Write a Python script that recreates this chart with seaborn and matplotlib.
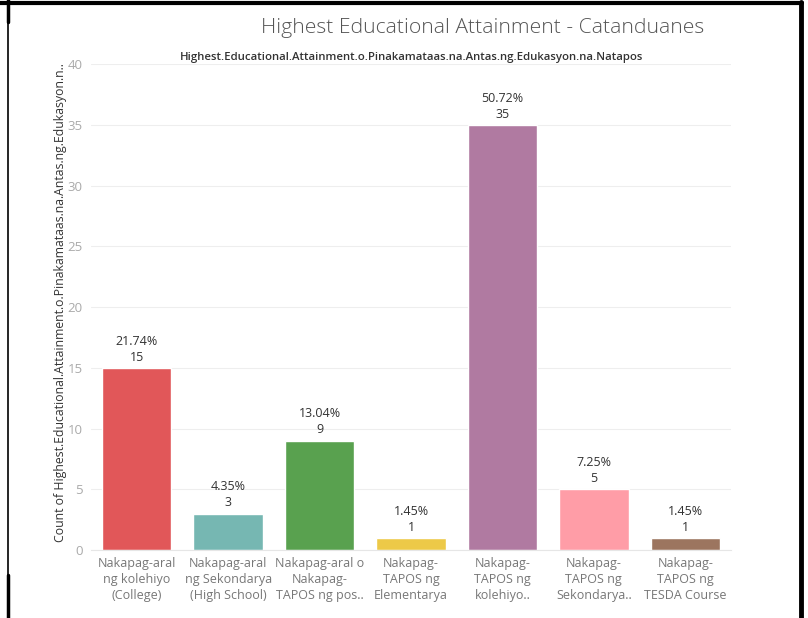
import pandas as pd
import numpy as np
import seaborn as sns
import matplotlib.pyplot as plt
from matplotlib.lines import Line2D

categories = [
    "Nakapag-aral\nng kolehiyo\n(College)",
    "Nakapag-aral\nng Sekondarya\n(High School)",
    "Nakapag-aral o\nNakapag-\nTAPOS ng pos..",
    "Nakapag-\nTAPOS ng\nElementarya",
    "Nakapag-\nTAPOS ng\nkolehiyo..",
    "Nakapag-\nTAPOS ng\nSekondarya..",
    "Nakapag-\nTAPOS ng\nTESDA Course",
]
counts = [15, 3, 9, 1, 35, 5, 1]
percents = ["21.74%", "4.35%", "13.04%", "1.45%", "50.72%", "7.25%", "1.45%"]
bar_colours = ["#E15759", "#76B7B2", "#59A14F", "#EDC948", "#B07AA1", "#FF9DA7", "#9C755F"]

df = pd.DataFrame({"category": categories, "count": counts})

sns.set_style("white")
plt.rcParams['font.family'] = ['Open Sans', 'DejaVu Sans']

fig = plt.figure(figsize=(8.08, 6.18), dpi=100)
ax = fig.add_axes([0.1126, 0.110, 0.7921, 0.7864])

sns.barplot(
    data=df,
    x='category',
    y='count',
    hue='category',
    palette=bar_colours,
    legend=False,
    width=0.76,
    saturation=1,
    ax=ax
)

ax.set_ylim(0, 40)
ax.set_xlim(-0.5, len(categories) - 0.5)
ax.set_yticks(range(0, 41, 5))
ax.yaxis.grid(True, color="#eeeeee", linewidth=0.8)
ax.set_axisbelow(True)
for s in ['top', 'right', 'left']:
    ax.spines[s].set_visible(False)
ax.spines['bottom'].set_color("#e6e6e6")
ax.tick_params(axis='y', colors="#aaaaaa", labelsize=9.5, length=0, pad=6)
ax.tick_params(axis='x', colors="#777777", labelsize=9, length=0, pad=5)
ax.set_xticks(range(len(categories)))
ax.set_xticklabels(categories, linespacing=1.3)
ax.set_xticks(np.arange(0.5, len(categories) - 0.5, 1), minor=True)
ax.tick_params(axis='x', which='minor', length=10, color="#eeeeee", direction='out')

for i, (c, p) in enumerate(zip(counts, percents)):
    ax.text(i, c + 0.35, f"{p}\n{c}", ha='center', va='bottom', fontsize=9,
            color="#333333", linespacing=1.3)

ax.set_xlabel("")
ax.set_ylabel("Count of Highest.Educational.Attainment.o.Pinakamataas.na.Antas.ng.Edukasyon.n..",
              fontsize=8.8, color="#333333")
ax.yaxis.set_label_coords(-0.038, 0.51)

fig.text(0.597, 0.955, "Highest Educational Attainment - Catanduanes", ha='center', va='center',
         fontsize=15.2, color="#555555", fontweight='light')
fig.text(0.509, 0.907, "Highest.Educational.Attainment.o.Pinakamataas.na.Antas.ng.Edukasyon.na.Natapos",
         ha='center', va='center', fontsize=8.2, color="#333333", fontweight='semibold')

# frame lines around the screenshot
fig.add_artist(Line2D([0, 0.992], [0.995, 0.995], color='black', lw=3, transform=fig.transFigure))
fig.add_artist(Line2D([0.0105, 0.0105], [0, 1], color='black', lw=1.2, transform=fig.transFigure))
fig.add_artist(Line2D([0.0095, 0.0095], [0.965, 1], color='black', lw=2.5, transform=fig.transFigure))
fig.add_artist(Line2D([0.0095, 0.0095], [0, 0.07], color='black', lw=2.5, transform=fig.transFigure))
fig.add_artist(Line2D([0.991, 0.991], [0, 0.997], color='black', lw=3.5, transform=fig.transFigure))

fig.savefig("out.png", dpi=100)
